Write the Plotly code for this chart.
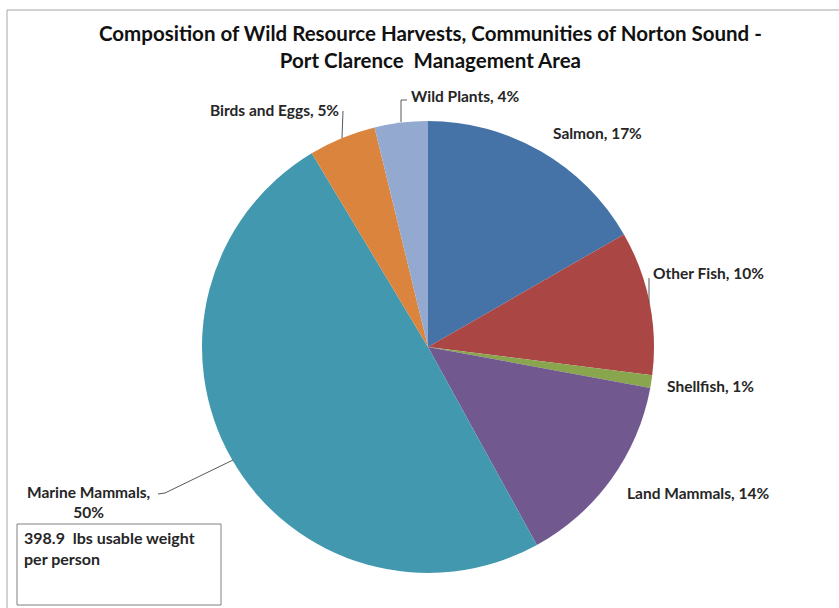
import plotly.graph_objects as go

W, H = 839, 608

# ---- data ----
categories = ["Salmon", "Other Fish", "Shellfish", "Land Mammals",
              "Marine Mammals", "Birds and Eggs", "Wild Plants"]
values = [16.7, 10.3, 0.9, 14.1, 49.4, 4.8, 3.8]
pct_labels = [17, 10, 1, 14, 50, 5, 4]
colors = ["#4572A7", "#AA4643", "#89A54E", "#71588F", "#4198AF", "#DB843D", "#93A9CF"]
title_lines = ["Composition of Wild Resource Harvests, Communities of Norton Sound -",
               "Port Clarence  Management Area"]
note_lines = ["398.9  lbs usable weight", "per person"]


def px(x):
    return x / W


def py(y):
    return 1 - y / H


FONT = "Lato"
TXT = "#262626"
LBL = 15.5

fig = go.Figure()
fig.add_trace(go.Pie(
    labels=categories, values=values, sort=False, direction="clockwise",
    rotation=0, marker=dict(colors=colors, line=dict(width=0)),
    textinfo="none", hoverinfo="label+percent", showlegend=False,
    domain=dict(x=[px(202), px(654)], y=[py(573), py(121)]),
))

# label placement (anchor positions for each category)
label_pos = {
    "Salmon": (551, 133, "left"),
    "Other Fish": (651, 273, "left"),
    "Shellfish": (665, 386, "left"),
    "Land Mammals": (625, 493, "left"),
    "Birds and Eggs": (341, 110, "right"),
    "Wild Plants": (409, 96, "left"),
}
annotations = []
for name, pct in zip(categories, pct_labels):
    if name == "Marine Mammals":
        annotations.append(dict(
            x=px(88), y=py(502), xref="paper", yref="paper", showarrow=False,
            text=f"<b>{name},<br>{pct}%</b>", align="center",
            xanchor="center", yanchor="middle",
            font=dict(family=FONT, size=LBL, color=TXT)))
        continue
    x, y, anc = label_pos[name]
    annotations.append(dict(
        x=px(x), y=py(y), xref="paper", yref="paper", showarrow=False,
        text=f"<b>{name}, {pct}%</b>", xanchor=anc, yanchor="middle",
        font=dict(family=FONT, size=LBL, color=TXT)))

annotations.append(dict(
    x=px(430), y=py(46), xref="paper", yref="paper", showarrow=False,
    text="<b>" + "<br>".join(title_lines) + "</b>", align="center",
    xanchor="center", yanchor="middle",
    font=dict(family=FONT, size=20.5, color="#111111")))

annotations.append(dict(
    x=px(22), y=py(548), xref="paper", yref="paper", showarrow=False,
    text="<b>" + "<br>".join(note_lines) + "</b>", align="left",
    xanchor="left", yanchor="middle",
    font=dict(family=FONT, size=16, color=TXT)))

line_style = dict(color="#595959", width=1)
shapes = [
    # outer chart border
    dict(type="rect", xref="paper", yref="paper", x0=px(7), x1=px(850),
         y0=py(620), y1=py(10), line=dict(color="#A6A6A6", width=1)),
    # note box
    dict(type="rect", xref="paper", yref="paper", x0=px(17), x1=px(221),
         y0=py(605), y1=py(524), line=dict(color="#808080", width=1)),
    # leader lines
    dict(type="path", xref="paper", yref="paper",
         path=f"M {px(401)} {py(122)} L {px(401)} {py(100)} L {px(407)} {py(100)}",
         line=line_style),
    dict(type="line", xref="paper", yref="paper", x0=px(343), y0=py(111),
         x1=px(342), y1=py(138), line=line_style),
    dict(type="line", xref="paper", yref="paper", x0=px(649), y0=py(278),
         x1=px(649), y1=py(303), line=line_style),
    dict(type="path", xref="paper", yref="paper",
         path=f"M {px(158)} {py(494)} L {px(165)} {py(493)} L {px(233)} {py(460)}",
         line=line_style),
]

fig.update_layout(
    width=W, height=H, margin=dict(l=0, r=0, t=0, b=0),
    paper_bgcolor="white", plot_bgcolor="white",
    annotations=annotations, shapes=shapes,
)

fig.write_html("out.html")
